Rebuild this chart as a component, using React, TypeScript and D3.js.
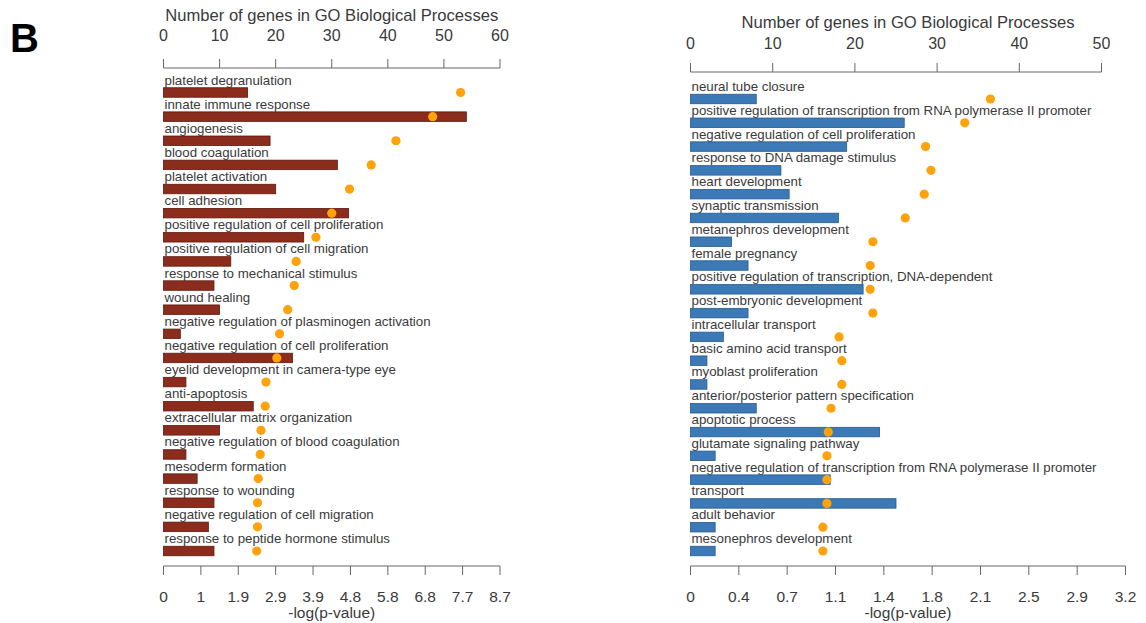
import React from 'react';
import * as d3 from 'd3';

// left panel
const leftTerms = [
  'platelet degranulation', 'innate immune response', 'angiogenesis', 'blood coagulation',
  'platelet activation', 'cell adhesion', 'positive regulation of cell proliferation',
  'positive regulation of cell migration', 'response to mechanical stimulus', 'wound healing',
  'negative regulation of plasminogen activation', 'negative regulation of cell proliferation',
  'eyelid development in camera-type eye', 'anti-apoptosis', 'extracellular matrix organization',
  'negative regulation of blood coagulation', 'mesoderm formation', 'response to wounding',
  'negative regulation of cell migration', 'response to peptide hormone stimulus',
];
const leftGenes = [15, 54, 19, 31, 20, 33, 25, 12, 9, 10, 3, 23, 4, 16, 10, 4, 6, 9, 8, 9];
const leftLogP = [7.68, 6.96, 6.01, 5.37, 4.81, 4.35, 3.94, 3.43, 3.38, 3.21, 3.0, 2.93, 2.65, 2.63, 2.52, 2.5, 2.45, 2.43, 2.43, 2.41];
const leftGeneTicks = [0, 10, 20, 30, 40, 50, 60];
const leftPTickLabels = ['0', '1', '1.9', '2.9', '3.9', '4.8', '5.8', '6.8', '7.7', '8.7'];
const leftPMax = 8.7;

// right panel
const rightTerms = [
  'neural tube closure', 'positive regulation of transcription from RNA polymerase II promoter',
  'negative regulation of cell proliferation', 'response to DNA damage stimulus', 'heart development',
  'synaptic transmission', 'metanephros development', 'female pregnancy',
  'positive regulation of transcription, DNA-dependent', 'post-embryonic development',
  'intracellular transport', 'basic amino acid transport', 'myoblast proliferation',
  'anterior/posterior pattern specification', 'apoptotic process', 'glutamate signaling pathway',
  'negative regulation of transcription from RNA polymerase II promoter', 'transport',
  'adult behavior', 'mesonephros development',
];
const rightGenes = [8, 26, 19, 11, 12, 18, 5, 7, 21, 7, 4, 2, 2, 8, 23, 3, 17, 25, 3, 3];
const rightLogP = [2.22, 2.03, 1.74, 1.78, 1.73, 1.59, 1.35, 1.33, 1.33, 1.35, 1.1, 1.12, 1.12, 1.04, 1.02, 1.01, 1.01, 1.01, 0.98, 0.98];
const rightGeneTicks = [0, 10, 20, 30, 40, 50];
const rightPTickLabels = ['0', '0.4', '0.7', '1.1', '1.4', '1.8', '2.1', '2.5', '2.9', '3.2'];
const rightPMax = 3.22;

const FONT = '"Liberation Sans", Arial, sans-serif';
const AXIS = '#666';
const TEXT = '#3a3a3a';

type PanelProps = {
  terms: string[];
  genes: number[];
  logP: number[];
  geneTicks: number[];
  pLabels: string[];
  pMax: number;
  x0: number;
  geneEnd: number;
  pEnd: number;
  rowTop: number;
  rowBottom: number;
  axisY: number;
  titleY: number;
  tickLabelY: number;
  fill: string;
  stroke: string;
};

const Panel = (props: PanelProps) => {
  const { terms, genes, logP, geneTicks, pLabels, pMax, x0, geneEnd, pEnd, rowTop, rowBottom,
    axisY, titleY, tickLabelY, fill, stroke } = props;
  const xG = d3.scaleLinear().domain([0, d3.max(geneTicks)!]).range([x0, geneEnd]);
  const xP = d3.scaleLinear().domain([0, pMax]).range([x0, pEnd]);
  const y = d3.scalePoint<string>().domain(terms).range([rowTop, rowBottom]);
  const barH = 9.5;
  const bottomY = 566;
  const mid = (x0 + pEnd) / 2;
  const pTicks = pLabels.map((l, i) => ({ l, v: (pMax * i) / (pLabels.length - 1) }));

  return (
    <g fontFamily={FONT}>
      {/* top axis: gene counts */}
      <text x={mid} y={titleY} textAnchor="middle" fontSize={16.6} fill={TEXT}>
        Number of genes in GO Biological Processes
      </text>
      {geneTicks.map(t => (
        <g key={t}>
          <text x={xG(t)} y={tickLabelY} textAnchor="middle" fontSize={16} fill={TEXT}>{t}</text>
          <line x1={xG(t)} x2={xG(t)} y1={axisY - 9} y2={axisY} stroke={AXIS} />
        </g>
      ))}
      <line x1={x0} x2={geneEnd} y1={axisY} y2={axisY} stroke={AXIS} />

      {terms.map((t, i) => {
        const cy = y(t)!;
        return (
          <g key={t}>
            <text x={x0 + 1} y={cy - 8} fontSize={13.3} fill={TEXT}>{t}</text>
            <rect x={x0} y={cy - barH / 2} width={xG(genes[i]) - x0} height={barH}
              fill={fill} stroke={stroke} strokeWidth={0.8} />
          </g>
        );
      })}
      {terms.map((t, i) => (
        <circle key={t} cx={xP(logP[i])} cy={y(t)!} r={4.6} fill="#ffa20c" />
      ))}

      {/* bottom axis: -log(p) */}
      <line x1={x0} x2={pEnd} y1={bottomY} y2={bottomY} stroke={AXIS} />
      {pTicks.map(({ l, v }) => (
        <g key={l}>
          <line x1={xP(v)} x2={xP(v)} y1={bottomY} y2={bottomY + 9} stroke={AXIS} />
          <text x={xP(v)} y={bottomY + 36} textAnchor="middle" fontSize={15.5} fill={TEXT}>{l}</text>
        </g>
      ))}
      <text x={mid} y={bottomY + 52} textAnchor="middle" fontSize={15.5} fill={TEXT}>-log(p-value)</text>
    </g>
  );
};

export default function App() {
  return (
    <svg width={1146} height={623} style={{ position: 'absolute', left: 0, top: 0, background: '#fff' }}>
      <text x={10} y={52} fontFamily={FONT} fontWeight="bold" fontSize={40} fill="#000">B</text>
      <Panel terms={leftTerms} genes={leftGenes} logP={leftLogP} geneTicks={leftGeneTicks}
        pLabels={leftPTickLabels} pMax={leftPMax} x0={163.5} geneEnd={500} pEnd={500}
        rowTop={92.5} rowBottom={551} axisY={68} titleY={21} tickLabelY={41}
        fill="#8b2c1c" stroke="#5c1a10" />
      <Panel terms={rightTerms} genes={rightGenes} logP={rightLogP} geneTicks={rightGeneTicks}
        pLabels={rightPTickLabels} pMax={rightPMax} x0={690.5} geneEnd={1101.5} pEnd={1125.5}
        rowTop={99} rowBottom={551} axisY={72} titleY={28} tickLabelY={49}
        fill="#3c7ab7" stroke="#285a8c" />
    </svg>
  );
}
